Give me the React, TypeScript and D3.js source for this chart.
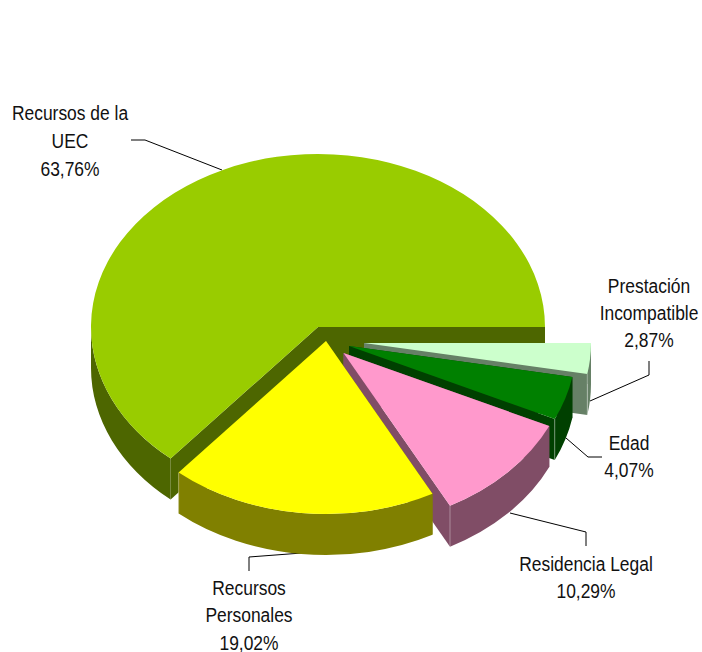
import React from 'react';
import * as d3 from 'd3';

const WIDTH = 702;
const HEIGHT = 652;

// Slices, clockwise from the east side of the pie
const names = ['Prestación Incompatible', 'Edad', 'Residencia Legal', 'Recursos Personales', 'Recursos de la UEC'];
const values = [2.87, 4.07, 10.29, 19.02, 63.76];

const topColors = ['#ccffcc', '#008000', '#ff99cc', '#ffff00', '#99cc00'];
const sideColors = ['#668066', '#004000', '#804d66', '#808000', '#4d6600'];

// How far each slice is pulled out of the pie
const explodeX = [46, 31, 25.5, 8, 0];
const explodeY = [16, 19, 26, 14, 0];

// Label placement: centre x, baseline of each line
const labelLines = [
  ['Prestación', 'Incompatible', '2,87%'],
  ['Edad', '4,07%'],
  ['Residencia Legal', '10,29%'],
  ['Recursos', 'Personales', '19,02%'],
  ['Recursos de la', 'UEC', '63,76%'],
];
const labelX = [649, 629, 586, 249, 70];
const labelY = [
  [293, 320, 347],
  [450, 477],
  [571, 598],
  [595, 622, 650],
  [120, 148, 176],
];
const leaders = [
  [[649, 361], [649, 375], [590, 401]],
  [[602, 457], [588, 457], [566, 438]],
  [[586, 546], [586, 532], [510, 513]],
  [[249, 571], [249, 557], [302, 553]],
  [[131, 140], [145, 140], [222, 170]],
];

const CX = 318;
const CY = 327;
const RX = 227;
const RY = 173;
const DEPTH = 41;

type Row = { name: string; value: number; i: number };

const rows: Row[] = names.map((name, i) => ({ name, value: values[i], i }));

// d3 angles start at 12 o'clock, so turn a quarter to start at 3 o'clock
const pie = d3.pie<Row>().sort(null).value((d) => d.value).startAngle(Math.PI / 2).endAngle(Math.PI / 2 + 2 * Math.PI);
const arc = d3.arc<d3.PieArcDatum<Row>>().innerRadius(0).outerRadius(RX);

const rim = (x: number, y: number, t: number) => [x + RX * Math.cos(t), y + RY * Math.sin(t)];

function radialWall(x: number, y: number, t: number) {
  const [px, py] = rim(x, y, t);
  return `M${x},${y}L${px},${py}L${px},${py + DEPTH}L${x},${y + DEPTH}Z`;
}

function outerWall(x: number, y: number, t0: number, t1: number) {
  const a = Math.max(t0, 0);
  const b = Math.min(t1, Math.PI);
  if (a >= b) return null;
  const [x0, y0] = rim(x, y, a);
  const [x1, y1] = rim(x, y, b);
  return `M${x0},${y0}A${RX},${RY} 0 0 1 ${x1},${y1}L${x1},${y1 + DEPTH}A${RX},${RY} 0 0 0 ${x0},${y0 + DEPTH}Z`;
}

const leaderLine = d3.line();

// Back to front: big slice first, then the pulled out ones going round
const drawOrder = [4, 0, 1, 2, 3];

export default function App() {
  const arcs = pie(rows);

  return (
    <svg
      width={WIDTH}
      height={HEIGHT}
      viewBox={`0 0 ${WIDTH} ${HEIGHT}`}
      style={{ position: 'absolute', left: 0, top: 0, background: '#fff' }}
    >
      {leaders.map((pts, i) => (
        <path key={i} d={leaderLine(pts as [number, number][]) ?? ''} fill="none" stroke="#000" strokeWidth={1} />
      ))}
      {drawOrder.map((i) => {
        const d = arcs[i];
        const x = CX + explodeX[i];
        const y = CY + explodeY[i];
        const t0 = d.startAngle - Math.PI / 2;
        const t1 = d.endAngle - Math.PI / 2;
        const wall = outerWall(x, y, t0, t1);
        const [cornerX, cornerY] = rim(x, y, t1);
        return (
          <g key={i}>
            <path d={radialWall(x, y, t0)} fill={sideColors[i]} />
            <path d={radialWall(x, y, t1)} fill={sideColors[i]} />
            {wall && <path d={wall} fill={sideColors[i]} />}
            {t1 < Math.PI && (
              <line x1={cornerX} y1={cornerY} x2={cornerX} y2={cornerY + DEPTH} stroke="#fff" strokeOpacity={0.35} />
            )}
            <path d={arc(d) ?? ''} transform={`translate(${x},${y}) scale(1,${RY / RX})`} fill={topColors[i]} />
          </g>
        );
      })}
      {labelLines.map((lines, i) =>
        lines.map((line, j) => (
          <text
            key={`${i}-${j}`}
            transform={`translate(${labelX[i]},${labelY[i][j]}) scale(0.83,1)`}
            textAnchor="middle"
            fontFamily="'Liberation Sans', sans-serif"
            fontSize={21}
            fill="#111"
          >
            {line}
          </text>
        ))
      )}
    </svg>
  );
}
